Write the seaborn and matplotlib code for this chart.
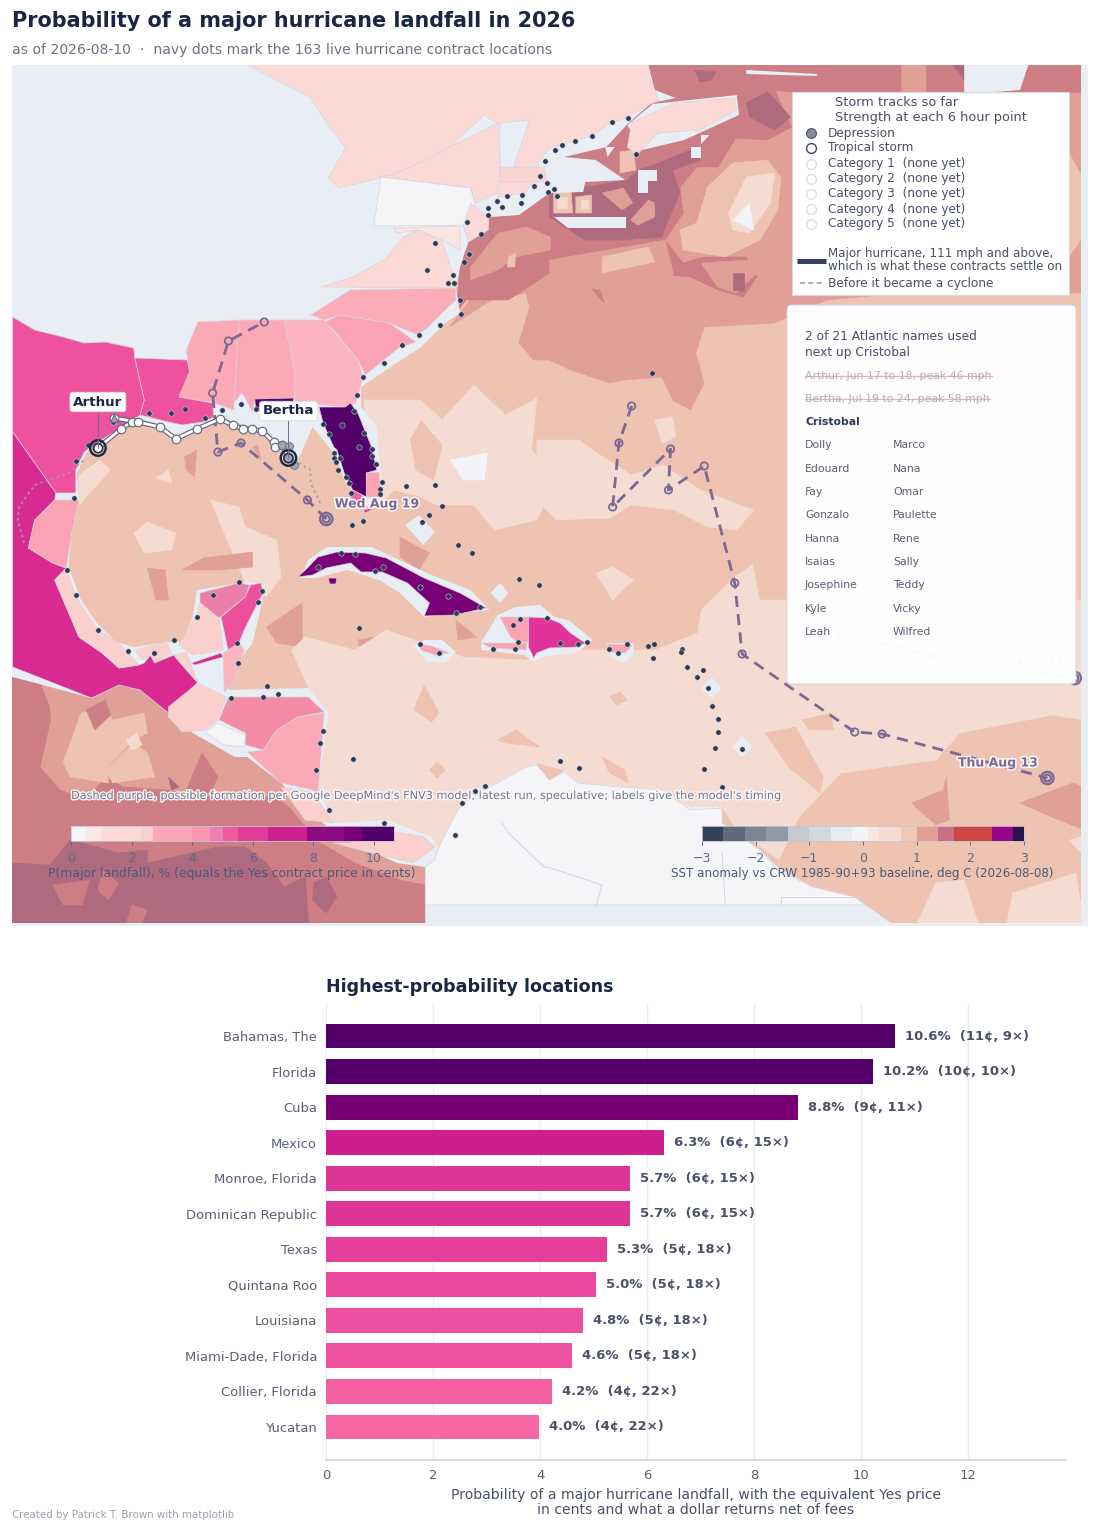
"""Major hurricane landfall odds map with a ranked bar chart underneath."""

import matplotlib
matplotlib.use("Agg")
import matplotlib.pyplot as plt
import matplotlib.patheffects as pe
from matplotlib.cm import ScalarMappable
from matplotlib.colors import BoundaryNorm, ListedColormap
from matplotlib.patches import FancyBboxPatch, Polygon, Rectangle
import seaborn as sns

# bar chart data
LOCATIONS = ["Bahamas, The", "Florida", "Cuba", "Mexico", "Monroe, Florida", "Dominican Republic",
             "Texas", "Quintana Roo", "Louisiana", "Miami-Dade, Florida", "Collier, Florida", "Yucatan"]
PROBS = [10.64, 10.23, 8.82, 6.32, 5.69, 5.68, 5.26, 5.05, 4.81, 4.6, 4.23, 3.99]
PROB_LABELS = ["10.6", "10.2", "8.8", "6.3", "5.7", "5.7", "5.3", "5.0", "4.8", "4.6", "4.2", "4.0"]
CENTS = [11, 10, 9, 6, 6, 6, 5, 5, 5, 5, 4, 4]
MULTIPLES = [9, 10, 11, 15, 15, 15, 18, 18, 18, 18, 22, 22]
BAR_COLORS = ["#54006a", "#54006a", "#780075", "#cd1e8d", "#dd3497", "#dd3497",
              "#e53d9a", "#ea479d", "#ed4e9f", "#ef529f", "#f45fa3", "#f766a5"]

W, B, C, D, E, F = "#f3f4f7", "#f4dcd3", "#eec3b2", "#e0a097", "#cd7d84", "#ae6a7f"
SEA_BASE = C
SEA_LAYERS = [
    # north atlantic
    (D, [(437, 313), (427, 327), (467, 300), (500, 293), (503, 307), (493, 343), (507, 360), (522, 360), (542, 370), (579, 383), (594, 380), (629, 377), (639, 400), (656, 410), (669, 383), (661, 353), (669, 327), (736, 323), (749, 317), (786, 300), (856, 293), (1030, 293), (1030, 64), (616, 64), (522, 193)]),
    (E, [(616, 64), (856, 64), (856, 92), (752, 92), (736, 90), (752, 127), (729, 140), (699, 138), (682, 167), (662, 167), (646, 187), (649, 213), (632, 240), (649, 263), (669, 257), (709, 257), (719, 277), (706, 297), (682, 290), (656, 277), (609, 273), (569, 287), (574, 303), (552, 277), (522, 273), (483, 300), (443, 300), (433, 313), (437, 267), (445, 242), (465, 217), (493, 215), (522, 193), (536, 157), (597, 123)]),
    (E, [(880, 64), (1030, 64), (1030, 92), (880, 92)]),
    (F, [(522, 193), (556, 187), (596, 180), (606, 170), (626, 163), (656, 150), (666, 160), (639, 170), (646, 193), (632, 227), (629, 237), (589, 240), (556, 240), (522, 217)]),
    (F, [(709, 103), (729, 92), (751, 117), (736, 130), (712, 117)]),
    (F, [(669, 195), (686, 188), (689, 200), (676, 207)]),
    (F, [(905, 64), (916, 80), (946, 67), (956, 90), (975, 73), (975, 64)]),
    (F, [(660, 70), (680, 72), (676, 80), (665, 82)]),
    (D, [(447, 267), (473, 233), (500, 227), (523, 237), (523, 250), (490, 257), (473, 270), (447, 280)]),
    (C, [(483, 257), (490, 253), (489, 267), (482, 267)]),
    (D, [(522, 260), (632, 240), (640, 275), (570, 290), (522, 280)]),
    (C, [(572, 257), (616, 247), (622, 262), (572, 273)]),
    (D, [(666, 263), (712, 260), (719, 273), (699, 293), (682, 287)]),
    (F, [(696, 273), (707, 273), (707, 290), (696, 290)]),
    (C, [(526, 187), (542, 183), (544, 213), (526, 213)]),
    (B, [(529, 197), (539, 197), (539, 208), (529, 208)]),
    (C, [(547, 197), (562, 195), (562, 213), (547, 213)]),
    (B, [(552, 200), (559, 200), (559, 208), (552, 208)]),
    (C, [(589, 152), (602, 150), (604, 170), (589, 173)]),
    (D, [(599, 220), (616, 200), (622, 203), (622, 217), (606, 225)]),
    (D, [(572, 193), (592, 188), (601, 203), (591, 210)]),
    (C, [(646, 230), (662, 223), (672, 187), (696, 163), (729, 160), (742, 177), (739, 210), (722, 240), (689, 257), (649, 250)]),
    (B, [(692, 213), (709, 177), (736, 173), (732, 203), (712, 233), (696, 230)]),
    (W, [(696, 220), (712, 203), (716, 230)]),
    (C, [(790, 120), (852, 110), (1000, 125), (1030, 180), (1030, 235), (1000, 280), (810, 285), (760, 240)]),
    # open atlantic east of florida
    (B, [(346, 400), (400, 400), (420, 420), (450, 385), (480, 415), (510, 398), (505, 450), (530, 480), (510, 520), (470, 530), (450, 505), (415, 505), (395, 495), (375, 490), (365, 500), (346, 500)]),
    (W, [(428, 460), (463, 453), (460, 480), (440, 480)]),
    (W, [(397, 433), (413, 432), (407, 443)]),
    (C, [(400, 420), (420, 445), (412, 480), (395, 470), (390, 440)]),
    (B, [(622, 420), (639, 417), (642, 437), (629, 443)]),
    (B, [(510, 440), (550, 440), (570, 455), (600, 475), (630, 465), (665, 490), (716, 510), (700, 530), (672, 527), (640, 510), (600, 505), (579, 518), (529, 520), (510, 500)]),
    (B, [(566, 573), (582, 567), (602, 580), (582, 600)]),
    # gulf of mexico
    (B, [(127, 533), (140, 522), (167, 533), (163, 550), (137, 553)]),
    (B, [(200, 500), (227, 507), (233, 527), (263, 540), (267, 577), (253, 597), (233, 583), (213, 533)]),
    (B, [(148, 478), (160, 470), (163, 483)]),
    (B, [(75, 475), (95, 460), (105, 470), (88, 490), (75, 505)]),
    (D, [(173, 570), (193, 558), (240, 552), (240, 567), (207, 570)]),
    (D, [(140, 568), (157, 570), (160, 600), (148, 600)]),
    (D, [(175, 457), (187, 450), (185, 477), (177, 470)]),
    (D, [(240, 447), (245, 445), (248, 460)]),
    (D, [(253, 627), (287, 603), (287, 647), (263, 643)]),
    (D, [(380, 537), (408, 553), (398, 570), (380, 557)]),
    (D, [(340, 640), (355, 637), (343, 653)]),
    (D, [(433, 620), (453, 637), (435, 640)]),
    # caribbean
    (B, [(277, 650), (290, 637), (337, 650), (367, 630), (413, 647), (440, 657), (500, 660), (555, 650), (622, 650), (663, 633), (666, 610), (700, 575), (715, 565), (722, 600), (790, 600), (1030, 600), (1030, 720), (1000, 715), (912, 733), (889, 760), (799, 773), (759, 817), (740, 860), (700, 830), (686, 807), (656, 807), (600, 788), (549, 783), (536, 770), (510, 763), (500, 767), (450, 793), (417, 850), (405, 840), (367, 820), (317, 823), (302, 790), (305, 767), (312, 713), (293, 688)]),
    (C, [(393, 710), (403, 685), (417, 713), (410, 722)]),
    (C, [(473, 740), (490, 730), (513, 747), (480, 743)]),
    (C, [(408, 770), (415, 762), (423, 770), (415, 778)]),
    (C, [(579, 697), (589, 692), (596, 700), (586, 705)]),
    (C, [(572, 757), (594, 770), (597, 783), (579, 773)]),
    (C, [(727, 733), (756, 727), (782, 777), (779, 793), (749, 767)]),
    (C, [(762, 720), (789, 713), (792, 730), (769, 730)]),
    (D, [(866, 803), (896, 790), (899, 777), (902, 820), (889, 825)]),
    (D, [(969, 803), (1019, 783), (1030, 787), (1030, 830), (999, 817)]),
    (B, [(889, 883), (916, 880), (930, 926), (870, 926)]),
    (B, [(956, 926), (962, 893), (1022, 873), (1030, 926)]),
    (B, [(1016, 840), (1030, 836), (1030, 857)]),
    (B, [(940, 700), (970, 690), (1000, 700), (960, 710)]),
    # pacific side
    (D, [(0, 670), (12, 677), (87, 698), (113, 685), (133, 690), (160, 713), (183, 733), (200, 743), (223, 757), (235, 757), (267, 783), (317, 833), (377, 863), (404, 867), (404, 926), (0, 926)]),
    (E, [(11, 677), (37, 680), (47, 707), (48, 720), (38, 767), (57, 790), (83, 800), (100, 777), (117, 787), (160, 790), (180, 797), (263, 797), (277, 810), (300, 840), (337, 863), (380, 880), (404, 885), (404, 926), (11, 926)]),
    (E, [(192, 753), (207, 777), (200, 793), (177, 790)]),
    (F, [(160, 777), (170, 787), (163, 790)]),
    (F, [(12, 863), (47, 865), (67, 840), (113, 853), (140, 850), (140, 863), (207, 847), (233, 847), (253, 863), (270, 887), (290, 877), (293, 923), (12, 923)]),
    (E, [(97, 870), (113, 883), (103, 900), (93, 890)]),
    (E, [(125, 905), (140, 910), (135, 923), (120, 923)]),
    (E, [(50, 885), (85, 880), (78, 905), (60, 905)]),
    (F, [(298, 883), (310, 877), (320, 897), (310, 913), (297, 900)]),
    (C, [(60, 763), (77, 713), (100, 707), (107, 720), (137, 713), (140, 733), (127, 740), (102, 767), (103, 783), (67, 777)]),
    (C, [(100, 770), (127, 743), (140, 753), (147, 777), (127, 780), (107, 783)]),
    (B, [(120, 740), (130, 733), (135, 745), (125, 750)]),
    (E, [(82, 710), (100, 700), (105, 715), (90, 730)]),
]

# contract locations, map units
DOTS_U = [518, 513, 520, 507, 521, 496, 482, 472, 495, 477, 464, 464, 444, 457, 413, 446, 441, 406, 430, 426,
          431, 437, 438, 418, 398, 382, 365, 345, 339, 336, 211, 229, 243, 195, 176, 162, 142, 84, 72, 70,
          107, 307, 325, 313, 346, 341, 353, 353, 357, 317, 323, 317, 319, 321, 329, 332, 363, 361, 361, 333,
          386, 413, 420, 597, 581, 562, 546, 534, 527, 604, 526, 529, 619, 408, 401, 345, 334, 435, 448, 324,
          337, 302, 364, 356, 399, 426, 433, 456, 493, 512, 494, 487, 520, 492, 489, 468, 417, 399, 341, 64,
          72, 93, 122, 146, 165, 187, 202, 227, 249, 245, 225, 226, 254, 250, 264, 219, 307, 304, 335, 300,
          313, 365, 451, 461, 439, 432, 532, 549, 558, 579, 587, 596, 616, 621, 648, 647, 620, 653, 668, 662,
          673, 676, 682, 682, 679, 705, 669, 686, 532, 550]
DOTS_V = [161, 176, 183, 186, 192, 195, 196, 201, 203, 207, 208, 215, 222, 234, 243, 254, 262, 270, 275, 283,
          283, 300, 314, 325, 335, 345, 363, 377, 395, 411, 410, 404, 409, 418, 409, 413, 413, 445, 461, 498,
          422, 424, 425, 434, 433, 447, 449, 456, 464, 453, 458, 458, 462, 470, 477, 483, 482, 489, 494, 493,
          486, 485, 506, 118, 122, 136, 141, 145, 150, 154, 189, 196, 373, 515, 522, 521, 525, 545, 553, 553,
          554, 567, 567, 571, 587, 596, 613, 607, 579, 585, 619, 625, 618, 642, 649, 649, 653, 644, 628, 570,
          595, 630, 651, 653, 640, 617, 595, 582, 591, 602, 643, 663, 686, 697, 694, 698, 731, 743, 759, 770,
          810, 823, 791, 786, 803, 835, 643, 644, 642, 649, 653, 644, 646, 644, 649, 652, 658, 667, 670, 677,
          688, 706, 719, 732, 748, 749, 769, 787, 761, 768]

# storm tracks, map units
BERTHA_U = [108, 131, 152, 167, 187, 209, 221, 231, 239, 249, 260, 261, 268, 274]
BERTHA_V = [418, 422, 427, 439, 429, 419, 425, 429, 429, 431, 442, 447, 445, 458]
ARTHUR_U = [93, 115, 125]
ARTHUR_V = [448, 429, 422]
ARTHUR_PRE_U = [23, 17, 18, 33, 65, 80]
ARTHUR_PRE_V = [543, 520, 507, 485, 473, 460]
BERTHA_PRE_U = [279, 295, 295, 305]
BERTHA_PRE_V = [460, 470, 483, 505]
FNV3_WEST_U = [310, 292, 229, 207, 202, 217, 251]
FNV3_WEST_V = [519, 500, 443, 452, 393, 341, 322]
FNV3_MID_U = [600, 588, 582, 637, 635, 669, 698, 705, 812, 838, 995]
FNV3_MID_V = [406, 443, 507, 449, 490, 466, 583, 654, 732, 734, 778]
FNV3_EAST_U = [799, 886, 1021]
FNV3_EAST_V = [635, 655, 678]

# colour scales
PROB_LEVELS = [0, 0.5, 1, 2.3, 2.7, 4, 4.6, 5, 5.5, 6.5, 7.8, 9, 9.6, 10.66]
PROB_COLORS = ["#f5f5f8", "#fbe7e5", "#fcdad6", "#f9cfc9", "#fca6b8", "#fb96b0", "#ec7fae",
               "#f05a9f", "#e13c98", "#d0208f", "#8c0b80", "#7a0078", "#54006a"]
SST_LEVELS = [-3, -2.6, -2.2, -1.8, -1.4, -1, -0.6, -0.2, 0.1, 0.3, 0.7, 1, 1.4, 1.7, 2.4, 2.8, 3]
SST_COLORS = ["#34425a", "#5f6a7c", "#7d8492", "#9198a6", "#c6c9d0", "#d4d7dc", "#e8ebf0", "#f3f4f7",
              "#f8e8e2", "#f5dcd2", "#efc8b8", "#e0a095", "#cc6c85", "#cd4643", "#96078a", "#2a1450"]

NAMES_LEFT = ["Dolly", "Edouard", "Fay", "Gonzalo", "Hanna", "Isaias", "Josephine", "Kyle", "Leah"]
NAMES_RIGHT = ["Marco", "Nana", "Omar", "Paulette", "Rene", "Sally", "Teddy", "Vicky", "Wilfred"]
CATEGORIES = ["Category 1  (none yet)", "Category 2  (none yet)", "Category 3  (none yet)",
              "Category 4  (none yet)", "Category 5  (none yet)"]

LAND = "#e9eef5"
NAVY = "#1a2744"
INK = "#4a5068"
PURPLE = "#7b6894"

# bits of land the sea field is cut away from
SEA_MASK = [(11, 65), (235, 65), (616, 65), (622, 90), (642, 98), (619, 103), (597, 123), (576, 147), (536, 157),
            (566, 160), (594, 180), (556, 182), (554, 192), (522, 193), (493, 215), (465, 217), (463, 230), (445, 242),
            (437, 267), (433, 287), (437, 313), (423, 323), (400, 347), (367, 370), (343, 387), (343, 407), (358, 427),
            (362, 480), (363, 497), (350, 507), (340, 500), (327, 480), (320, 457), (297, 427), (283, 460), (267, 443),
            (253, 433), (233, 425), (207, 417), (187, 427), (167, 437), (153, 425), (131, 418), (115, 425), (93, 437),
            (80, 457), (73, 473), (75, 500), (68, 533), (65, 567), (77, 600), (92, 623), (110, 642), (127, 647),
            (160, 642), (173, 642), (183, 617), (187, 590), (233, 582), (252, 585), (250, 597), (240, 643), (230, 657),
            (217, 690), (293, 688), (312, 713), (305, 767), (302, 790), (317, 823), (367, 820), (410, 837), (417, 850),
            (435, 810), (450, 793), (500, 767), (510, 763), (522, 787), (536, 770), (549, 783), (589, 787), (622, 790),
            (656, 807), (686, 807), (686, 823), (722, 850), (739, 867), (772, 887), (812, 897), (846, 923), (846, 926),
            (404, 926), (404, 867), (377, 863), (317, 833), (267, 783), (235, 757), (223, 757), (200, 743), (183, 733),
            (160, 713), (133, 690), (113, 685), (87, 698), (12, 677), (11, 677)]
HALOS = [
    [(285, 578), (293, 560), (310, 547), (353, 547), (410, 575), (447, 590), (465, 610), (403, 617), (380, 593), (360, 580), (330, 570), (300, 578)],
    [(473, 615), (490, 607), (513, 605), (527, 617), (540, 620), (563, 640), (549, 652), (515, 657), (507, 662), (498, 655), (457, 650), (457, 642)],
    [(393, 647), (403, 640), (420, 640), (433, 652), (423, 663), (407, 662)],
    [(576, 643), (602, 643), (602, 655), (591, 663), (581, 657)],
    [(676, 677), (686, 688), (676, 698), (666, 688)],
    [(705, 736), (715, 747), (705, 757), (696, 747)],
    [(398, 515), (413, 532), (402, 545), (385, 525)],
    [(475, 583), (483, 593), (475, 603), (466, 593)],
    [(656, 147), (666, 147), (666, 158), (656, 158)],
    [(606, 170), (624, 170), (624, 181), (616, 181), (616, 193), (606, 193)],
    [(526, 217), (595, 217), (595, 228), (540, 228)],
    [(575, 147), (584, 147), (577, 157)],
    [(666, 135), (674, 135), (666, 144)],
    [(916, 65), (977, 65), (969, 90), (946, 92), (916, 92)],
    [(709, 70), (776, 74), (776, 76), (709, 74)],
    [(620, 104), (700, 95), (702, 115), (650, 140), (610, 150), (596, 125)],
]

# regions coloured by probability: (probability colour, outline)
REGIONS = [
    ("#fdd9d6", [(235, 65), (616, 65), (617, 78), (622, 90), (626, 100), (616, 105), (596, 118), (581, 122), (562, 136), (546, 141), (534, 145), (522, 148), (513, 160), (511, 167), (475, 167), (475, 125), (460, 115), (427, 147), (405, 160), (372, 175), (322, 188), (312, 178), (328, 148), (302, 110), (295, 97)]),
    ("#fdd9d6", [(600, 123), (640, 103), (698, 98), (700, 110), (665, 130), (625, 133), (605, 155), (596, 147)]),
    ("#e9eef5", [(475, 123), (503, 120), (488, 167), (475, 167)]),
    ("#fdd9d6", [(372, 175), (405, 160), (427, 147), (473, 123), (475, 167), (473, 193), (452, 203), (447, 188), (360, 177)]),
    ("#fcd5d1", [(475, 168), (517, 167), (520, 182), (475, 182)]),
    ("#fcd9d6", [(473, 182), (507, 182), (498, 193), (473, 197)]),
    ("#f5f5f8", [(362, 177), (447, 188), (452, 207), (443, 225), (355, 226)]),
    ("#fcd9d6", [(447, 203), (464, 217), (464, 230), (445, 242), (440, 226)]),
    ("#fbe4e2", [(373, 228), (437, 226), (437, 250), (420, 240), (397, 230), (377, 233)]),
    ("#fdd9d6", [(305, 287), (335, 277), (367, 258), (383, 237), (397, 230), (420, 241), (430, 273), (433, 288)]),
    ("#fcacb6", [(295, 315), (333, 290), (433, 288), (433, 300), (420, 313), (407, 327), (397, 335), (370, 323), (323, 315), (308, 320)]),
    ("#fca3b3", [(308, 322), (323, 315), (370, 323), (395, 342), (380, 347), (347, 375), (340, 360), (317, 330)]),
    ("#fcb4be", [(270, 320), (308, 320), (340, 360), (345, 377), (338, 403), (330, 407), (280, 403), (278, 377)]),
    ("#fca9b6", [(227, 320), (270, 320), (280, 373), (280, 398), (242, 400), (240, 412), (230, 393), (222, 403), (223, 360)]),
    ("#fca9b6", [(188, 322), (227, 320), (222, 410), (203, 403), (170, 397), (180, 373), (177, 350)]),
    ("#ee519e", [(128, 358), (178, 360), (180, 372), (170, 397), (202, 403), (203, 417), (193, 422), (173, 425), (160, 422), (133, 415), (137, 400)]),
    ("#ee519e", [(12, 317), (33, 330), (60, 337), (80, 343), (100, 342), (127, 348), (128, 358), (137, 400), (133, 415), (115, 428), (93, 442), (80, 452), (72, 470), (72, 493), (53, 493), (33, 463), (12, 432)]),
    ("#54006a", [(242, 399), (279, 398), (279, 404), (243, 410)]),
    ("#54006a", [(303, 407), (328, 407), (333, 403), (340, 413), (353, 447), (358, 470), (348, 473), (348, 497), (335, 490), (327, 473), (320, 450), (317, 447), (307, 423)]),
    ("#fca3b3", [(348, 473), (360, 472), (362, 497), (348, 497)]),
    ("#f45fa3", [(335, 490), (347, 497), (343, 503), (333, 497)]),
    ("#dd3497", [(345, 510), (358, 507), (347, 513)]),
    ("#d82a90", [(12, 432), (33, 463), (53, 493), (52, 500), (33, 520), (27, 548), (50, 563), (63, 568), (52, 580), (75, 637), (97, 653), (113, 668), (132, 665), (137, 663), (143, 655), (147, 663), (165, 655), (173, 665), (188, 682), (160, 713), (133, 690), (113, 685), (87, 698), (12, 667)]),
    ("#fca3b3", [(27, 548), (33, 520), (52, 500), (75, 500), (68, 533), (63, 568), (50, 563)]),
    ("#fbd0cc", [(52, 580), (63, 568), (72, 597), (93, 630), (113, 643), (132, 665), (113, 668), (97, 653), (75, 637)]),
    ("#ed7eaa", [(190, 593), (227, 583), (237, 585), (233, 597), (208, 618), (190, 603)]),
    ("#ee4f9d", [(238, 585), (248, 583), (250, 593), (243, 607), (232, 630), (227, 643), (217, 652), (210, 617), (233, 597)]),
    ("#fbd0cc", [(187, 615), (190, 603), (208, 618), (212, 650), (183, 655), (170, 645)]),
    ("#fbd0cc", [(128, 650), (158, 642), (163, 653), (147, 663), (143, 655), (135, 660)]),
    ("#fbd0cc", [(165, 655), (177, 652), (188, 683), (215, 697), (207, 720), (195, 730), (173, 732), (160, 717), (160, 707), (188, 683), (173, 665)]),
    ("#d82a90", [(182, 663), (210, 653), (212, 657), (185, 665)]),
    ("#fcb4be", [(212, 653), (227, 643), (232, 650), (222, 683), (213, 692)]),
    ("#f48ca8", [(208, 720), (217, 697), (250, 697), (293, 697), (308, 712), (283, 717), (263, 730), (250, 750), (233, 745), (233, 733)]),
    ("#f5f5f8", [(195, 732), (207, 723), (233, 735), (232, 747), (213, 745)]),
    ("#fca9b6", [(235, 752), (250, 750), (263, 730), (283, 717), (308, 713), (302, 793), (297, 790), (267, 783)]),
    ("#fbd0cc", [(267, 787), (297, 792), (317, 823), (290, 820)]),
    ("#fbd0cc", [(317, 843), (333, 843), (367, 830), (403, 837), (413, 847), (393, 863), (353, 853)]),
    ("#f5f5f8", [(404, 867), (413, 860), (417, 847), (435, 810), (447, 798), (500, 767), (510, 765), (522, 780), (536, 772), (549, 783), (589, 787), (629, 790), (656, 810), (686, 808), (686, 823), (722, 850), (739, 870), (772, 887), (812, 897), (822, 905), (404, 905)]),
    ("#7a0078", [(283, 577), (292, 568), (302, 557), (320, 552), (347, 553), (367, 558), (403, 578), (437, 593), (462, 608), (432, 615), (403, 616), (408, 603), (387, 583), (363, 572), (343, 572), (333, 563), (310, 568), (297, 575)]),
    ("#7a0078", [(312, 578), (320, 578), (319, 584), (313, 584)]),
    ("#fba3b3", [(475, 617), (502, 617), (502, 642), (493, 643), (485, 637)]),
    ("#fba3b3", [(457, 643), (500, 643), (500, 650), (467, 648)]),
    ("#e0349a", [(502, 617), (520, 618), (532, 623), (542, 633), (556, 643), (549, 647), (522, 648), (510, 653), (507, 658), (502, 647)]),
    ("#fba3b3", [(397, 644), (410, 646), (427, 653), (413, 655), (400, 650)]),
    ("#fba3b3", [(577, 644), (601, 645), (594, 653), (579, 652)]),
]
BORDERS = [
    ([477, 483, 517, 523, 572, 566], [823, 833, 867, 868, 885, 907]),
    ([686, 689], [853, 905]),
    ([742, 742, 812], [905, 897, 897]),
]


def px_axes(fig, x0, y0, x1, y1, **kwargs):
    """Axes placed by reference image pixels."""
    return fig.add_axes([x0 / 1100, 1 - y1 / 1533, (x1 - x0) / 1100, (y1 - y0) / 1533], **kwargs)


def halo(width=2.2, color="white"):
    return [pe.withStroke(linewidth=width, foreground=color, alpha=0.9)]


def draw_track(ax, us, vs, color, width, dashes=None, order=6):
    sns.lineplot(x=us, y=vs, sort=False, estimator=None, color=color, linewidth=width,
                 dashes=False, ax=ax, zorder=order, legend=False)
    if dashes:
        ax.lines[-1].set_linestyle((0, dashes))


def draw_map(fig):
    ax = px_axes(fig, 12, 65, 1088, 926)
    ax.set_facecolor(LAND)

    # sea bands first, then land cut out of them
    ax.add_patch(Rectangle((0, 60), 1060, 880, facecolor=SEA_BASE, edgecolor="none", zorder=1))
    for color, outline in SEA_LAYERS:
        ax.add_patch(Polygon(outline, closed=True, facecolor=color, edgecolor=color, linewidth=0.4, zorder=1))
    ax.add_patch(Polygon(SEA_MASK, closed=True, facecolor=LAND, edgecolor="none", zorder=2))
    ax.add_patch(Rectangle((1027, 60), 30, 880, facecolor=LAND, edgecolor="none", zorder=2))
    ax.add_patch(Rectangle((0, 923), 1060, 10, facecolor=LAND, edgecolor="none", zorder=2))
    for outline in HALOS:
        ax.add_patch(Polygon(outline, closed=True, facecolor=LAND, edgecolor="none", zorder=2))

    for color, outline in REGIONS:
        ax.add_patch(Polygon(outline, closed=True, facecolor=color, edgecolor="#d3d6de", linewidth=0.5, zorder=3))
    for us, vs in BORDERS:
        ax.plot(us, vs, color="#d3d6de", linewidth=0.7, zorder=3)

    # FNV3 possible tracks
    for us, vs in [(FNV3_WEST_U, FNV3_WEST_V), (FNV3_MID_U, FNV3_MID_V), (FNV3_EAST_U, FNV3_EAST_V)]:
        draw_track(ax, us, vs, PURPLE, 2.0, dashes=(4, 2.6), order=4)
        sns.scatterplot(x=us, y=vs, s=28, facecolor="none", edgecolor=PURPLE, linewidth=1.3, ax=ax, zorder=5, legend=False)
    ends_u = [FNV3_WEST_U[0], FNV3_MID_U[-1], FNV3_EAST_U[-1]]
    ends_v = [FNV3_WEST_V[0], FNV3_MID_V[-1], FNV3_EAST_V[-1]]
    for size, lw in [(80, 1.6), (22, 1.2)]:
        sns.scatterplot(x=ends_u, y=ends_v, s=size, facecolor="none", edgecolor=PURPLE, linewidth=lw, ax=ax, zorder=5, legend=False)

    # contract locations
    sns.scatterplot(x=DOTS_U, y=DOTS_V, s=15, color="#2b3a55", edgecolor="#dfe2ea", linewidth=0.35, ax=ax, zorder=6, legend=False)

    # pre-cyclone paths
    for us, vs in [(ARTHUR_PRE_U, ARTHUR_PRE_V), (BERTHA_PRE_U, BERTHA_PRE_V)]:
        draw_track(ax, us, vs, "#9a9fae", 1.2, dashes=(1.5, 2), order=6)

    # observed tracks
    for us, vs in [(ARTHUR_U, ARTHUR_V), (BERTHA_U, BERTHA_V)]:
        draw_track(ax, us, vs, "#59627a", 3.6, order=7)
        draw_track(ax, us, vs, "white", 2.0, order=7)
        sns.scatterplot(x=us, y=vs, s=38, color="white", edgecolor="#6a7187", linewidth=0.9, ax=ax, zorder=8, legend=False)
    sns.scatterplot(x=[268, 275, 279, 274], y=[445, 446, 465, 458], s=32, color="#a2a6b4", edgecolor="#6a7187", linewidth=0.6, ax=ax, zorder=8, legend=False)
    sns.scatterplot(x=[108], y=[418], s=30, marker="^", color="#a2a6b4", edgecolor="#59627a", linewidth=0.7, ax=ax, zorder=8, legend=False)
    for size, lw in [(125, 1.7), (45, 1.0)]:
        sns.scatterplot(x=[ARTHUR_U[0], BERTHA_U[-1]], y=[ARTHUR_V[0], BERTHA_V[-1]], s=size, facecolor="none",
                        edgecolor=NAVY, linewidth=lw, ax=ax, zorder=9, legend=False)

    # storm names
    ax.plot([93, 93], [410, 448], color="#6a7187", linewidth=0.7, zorder=9)
    ax.plot([274, 274], [420, 458], color="#6a7187", linewidth=0.7, zorder=9)
    box = dict(boxstyle="round,pad=0.24", facecolor="white", edgecolor="#d8dbe3", linewidth=0.6)
    ax.text(93, 402, "Arthur", fontsize=9.7, fontweight="bold", color=NAVY, ha="center", va="center", bbox=box, zorder=10)
    ax.text(274, 411, "Bertha", fontsize=9.7, fontweight="bold", color=NAVY, ha="center", va="center", bbox=box, zorder=10)

    # model timing labels
    for label, u, v in [("Wed Aug 19", 358, 504), ("Thu Aug 13", 948, 763), ("Sun Aug 23", 973, 663)]:
        ax.text(u, v, label, fontsize=9, fontweight="bold", color=PURPLE, ha="center", va="center",
                path_effects=halo(), zorder=10)
    ax.text(67.5, 796, "Dashed purple, possible formation per Google DeepMind's FNV3 model, latest run, speculative; labels give the model's timing",
            fontsize=8.1, color="#74748f", va="center", path_effects=halo(2.0), zorder=10)

    ax.set_xlim(11.4, 1033.6)
    ax.set_ylim(926, 65)
    ax.set_xlabel("")
    ax.set_ylabel("")
    ax.set_xticks([])
    ax.set_yticks([])
    for spine in ax.spines.values():
        spine.set_visible(False)


def draw_colorbar(fig, x0, x1, levels, colors, ticks):
    cax = px_axes(fig, x0, 826, x1, 841, zorder=20)
    norm = BoundaryNorm(levels, len(colors))
    bar = fig.colorbar(ScalarMappable(norm=norm, cmap=ListedColormap(colors)), cax=cax, orientation="horizontal",
                       ticks=ticks, spacing="proportional")
    bar.minorticks_off()
    bar.outline.set_edgecolor("#c4c8d2")
    bar.outline.set_linewidth(0.6)
    cax.tick_params(length=3, width=0.7, colors="#5a6a86", labelsize=9, pad=5)
    cax.set_xticklabels([str(t).replace("-", "\u2212") for t in ticks])
    cax.patch.set_alpha(0)


def draw_panels(fig):
    ov = px_axes(fig, 0, 0, 1100, 1533, zorder=30)
    ov.set_xlim(0, 1100)
    ov.set_ylim(1533, 0)
    ov.axis("off")
    ov.patch.set_alpha(0)

    # storm strength key
    ov.add_patch(Rectangle((792, 92), 277, 203, facecolor="white", edgecolor="#d6d9e1", linewidth=0.8))
    ov.text(835, 103, "Storm tracks so far", fontsize=9.3, color=INK, va="center")
    ov.text(835, 117.5, "Strength at each 6 hour point", fontsize=9.3, color=INK, va="center")
    ov.scatter([811], [133], s=50, color="#868a9c", edgecolor="#4c5268", linewidth=0.8)
    ov.text(828, 133, "Depression", fontsize=8.7, color=INK, va="center")
    ov.scatter([811], [148], s=50, color="white", edgecolor="#3a4560", linewidth=1.0)
    ov.text(828, 148, "Tropical storm", fontsize=8.7, color=INK, va="center")
    for label, y in zip(CATEGORIES, [163.5, 178.5, 194, 209, 224]):
        ov.scatter([811], [y], s=50, color="white", edgecolor="#dcdfe6", linewidth=1.0)
        ov.text(828, y, label, fontsize=8.7, color=INK, va="center")
    ov.plot([797, 826], [261, 261], color="#34415e", linewidth=3.6, solid_capstyle="butt")
    ov.text(828, 254, "Major hurricane, 111 mph and above,", fontsize=8.6, color=INK, va="center")
    ov.text(828, 267, "which is what these contracts settle on", fontsize=8.6, color=INK, va="center")
    ov.plot([800, 823], [283, 283], color="#9a9fae", linewidth=1.2, linestyle=(0, (3, 2)))
    ov.text(828, 283, "Before it became a cyclone", fontsize=8.7, color=INK, va="center")

    # season name list
    ov.add_patch(FancyBboxPatch((787, 305), 289, 379, boxstyle="round,pad=0,rounding_size=5", facecolor="white",
                                alpha=0.97, edgecolor="#d6d9e1", linewidth=0.8))
    ov.text(805, 337, "2 of 21 Atlantic names used", fontsize=8.85, color=INK, va="center")
    ov.text(805, 352.5, "next up Cristobal", fontsize=8.85, color=INK, va="center")
    for label, y, x1 in [("Arthur, Jun 17 to 18, peak 46 mph", 376, 992), ("Bertha, Jul 19 to 24, peak 58 mph", 399, 990)]:
        ov.text(805, y, label, fontsize=7.8, color="#aeb1bd", va="center")
        ov.plot([805, x1], [y, y], color="#ecb1ae", linewidth=0.9)
    ov.text(805, 422, "Cristobal", fontsize=7.8, fontweight="bold", color="#2b3a55", va="center")
    for i, label in enumerate(NAMES_LEFT):
        ov.text(805, 445.5 + i * 23.3, label, fontsize=7.8, color="#5a6074", va="center")
    for i, label in enumerate(NAMES_RIGHT):
        ov.text(893, 445.5 + i * 23.3, label, fontsize=7.8, color="#5a6074", va="center")

    # colour bar captions
    ov.text(232, 873, "P(major landfall), % (equals the Yes contract price in cents)", fontsize=8.95, color="#4a5a78", ha="center", va="center")
    ov.text(862, 873, "SST anomaly vs CRW 1985-90+93 baseline, deg C (2026-08-08)", fontsize=8.6, color="#4a5a78", ha="center", va="center")

    # headings
    ov.text(12, 21, "Probability of a major hurricane landfall in 2026", fontsize=14.95, fontweight="bold", color=NAVY, va="center")
    ov.text(12, 50, "as of 2026-08-10  \u00b7  navy dots mark the 163 live hurricane contract locations", fontsize=10.1, color="#6b7280", va="center")
    ov.text(12, 1515, "Created by Patrick T. Brown with matplotlib", fontsize=7.4, color="#9aa0ac", va="center")


def draw_bars(fig):
    ax = px_axes(fig, 326, 1003, 1066, 1460)
    sns.barplot(x=PROBS, y=LOCATIONS, hue=LOCATIONS, palette=BAR_COLORS, width=0.7, dodge=False,
                saturation=1, linewidth=0, legend=False, ax=ax, zorder=3)
    for i, prob in enumerate(PROBS):
        label = f"{PROB_LABELS[i]}%  ({CENTS[i]}\u00a2, {MULTIPLES[i]}\u00d7)"
        ax.text(prob + 0.18, i, label, fontsize=9.45, fontweight="bold", color=INK, va="center")
    ax.set_xlim(0, 13.83)
    ax.set_ylim(11.93, -0.93)
    ax.set_xticks([0, 2, 4, 6, 8, 10, 12])
    ax.grid(axis="x", color="#eceef2", linewidth=1.0, zorder=0)
    ax.set_axisbelow(True)
    for side in ["top", "right", "left"]:
        ax.spines[side].set_visible(False)
    ax.spines["bottom"].set_color("#d3d6de")
    ax.tick_params(axis="both", length=3, width=0.7, color="#b8bcc8", labelcolor="#5a6074", labelsize=9.45)
    ax.set_xlabel("Probability of a major hurricane landfall, with the equivalent Yes price\nin cents and what a dollar returns net of fees",
                  fontsize=10.07, color=INK, labelpad=4, linespacing=1.15)
    ax.set_ylabel("")
    ax.set_title("Highest-probability locations", fontsize=12.65, fontweight="bold", color=NAVY, loc="left", pad=8)


if __name__ == '__main__':
    sns.set_theme(style="white")
    plt.rcParams["font.family"] = ["DejaVu Sans"]
    figure = plt.figure(figsize=(11, 15.33), dpi=100, facecolor="white")
    draw_map(figure)
    draw_colorbar(figure, 71, 394, PROB_LEVELS, PROB_COLORS, [0, 2, 4, 6, 8, 10])
    draw_colorbar(figure, 702, 1024, SST_LEVELS, SST_COLORS, [-3, -2, -1, 0, 1, 2, 3])
    draw_panels(figure)
    draw_bars(figure)
    figure.savefig("out.png", dpi=100, facecolor="white")
    plt.close(figure)
